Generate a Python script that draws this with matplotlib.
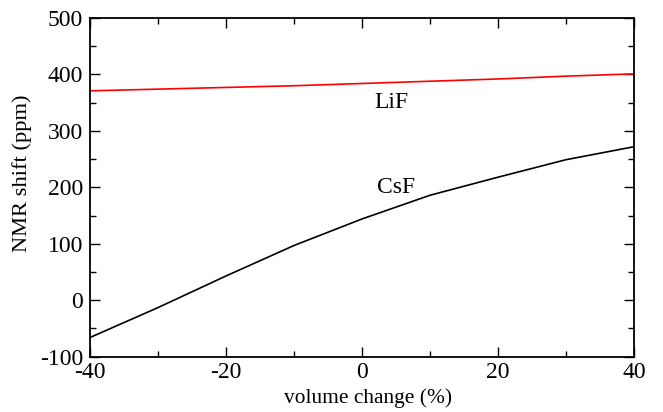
import matplotlib
matplotlib.use("Agg")
import matplotlib.pyplot as plt
from matplotlib.ticker import MultipleLocator

plt.rcParams['font.family'] = ['Liberation Serif', 'DejaVu Serif']
plt.rcParams['axes.unicode_minus'] = False

volume = [-40, -30, -20, -10, 0, 10, 20, 30, 40]
lif = [371, 374, 377, 380, 384, 388, 392, 397, 401]
csf = [-66, -13, 43, 97, 144, 186, 218, 249, 272]

fig = plt.figure(figsize=(6.63, 4.12), dpi=100)
ax = fig.add_axes([0.1357, 0.1342, 0.8206, 0.8221])
ax.plot(volume, lif, color='#ff0000', lw=1.2)
ax.plot(volume, csf, color='black', lw=1.2)
ax.text(4.3, 351, 'LiF', fontsize=17, ha='center', va='center')
ax.text(5, 199, 'CsF', fontsize=17, ha='center', va='center')

ax.set_xlim(-40, 40)
ax.set_ylim(-100, 500)
ax.xaxis.set_major_locator(MultipleLocator(20))
ax.xaxis.set_minor_locator(MultipleLocator(10))
ax.yaxis.set_major_locator(MultipleLocator(100))
ax.yaxis.set_minor_locator(MultipleLocator(50))
ax.tick_params(which='both', direction='in', top=True, right=True, labelsize=17, width=1)
ax.tick_params(which='major', length=7, pad=5)
ax.tick_params(which='minor', length=4)
ax.tick_params(axis='x', which='major', pad=4)
for s in ax.spines.values():
    s.set_linewidth(1.3)
ax.set_xlabel('volume change (%)', fontsize=15.4)
ax.set_ylabel('NMR shift (ppm)', fontsize=16.2)
ax.xaxis.set_label_coords(0.512, -0.093)
ax.yaxis.set_label_coords(-0.107, 0.543)
fig.savefig('out.png', dpi=100)
